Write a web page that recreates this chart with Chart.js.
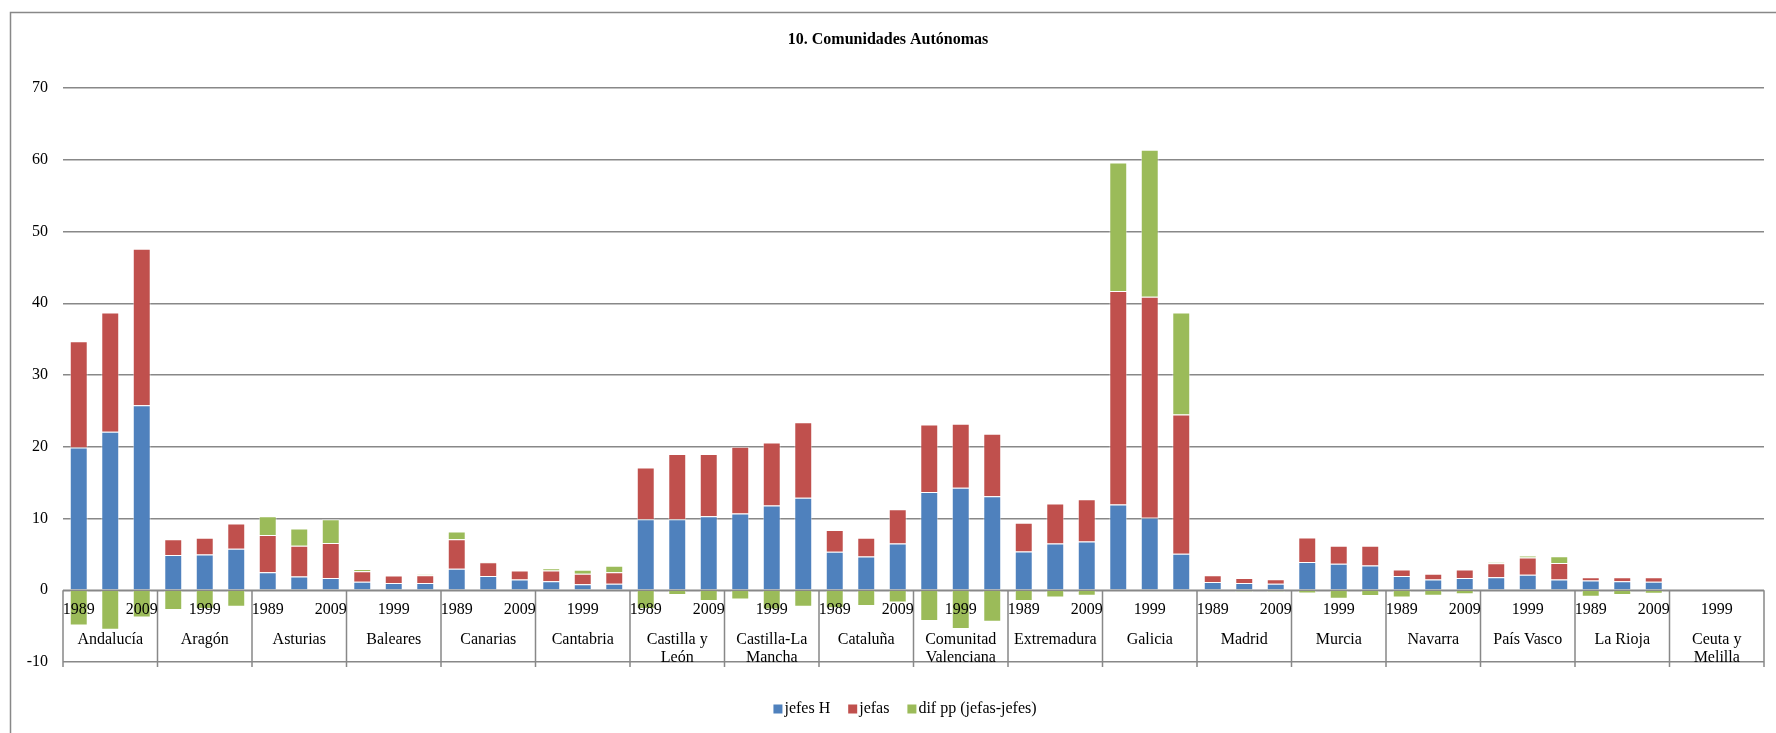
<!DOCTYPE html>
<html><head><meta charset="utf-8">
<script src="https://cdn.jsdelivr.net/npm/chart.js@4.4.0/dist/chart.umd.min.js"></script>
<style>html,body{margin:0;padding:0;background:#fff;overflow:hidden}canvas{display:block}</style>
</head><body>
<canvas id="c" width="1776" height="733"></canvas>
<script>
const chartTitle = '10. Comunidades Autónomas';
const years = ['1989', '1999', '2009'];
const regions = ['Andalucía', 'Aragón', 'Asturias', 'Baleares', 'Canarias', 'Cantabria',
  ['Castilla y', 'León'], ['Castilla-La', 'Mancha'], 'Cataluña', ['Comunitad', 'Valenciana'],
  'Extremadura', 'Galicia', 'Madrid', 'Murcia', 'Navarra', 'País Vasco', 'La Rioja', ['Ceuta y', 'Melilla']];
const seriesNames = ['jefes H', 'jefas', 'dif pp (jefas-jefes)'];
const seriesColors = ['#4F81BD', '#C0504D', '#9BBB59'];

// values per region: 1989, 1999, 2009
const jefesH = [
  19.9, 22.1, 25.8,
  4.9, 5.0, 5.8,
  2.5, 1.9, 1.7,
  1.2, 1.0, 1.0,
  3.0, 2.0, 1.5,
  1.25, 0.85, 0.9,
  9.9, 9.9, 10.3,
  10.7, 11.8, 12.9,
  5.35, 4.7, 6.5,
  13.7, 14.3, 13.1,
  5.4, 6.5, 6.8,
  11.95, 10.1, 5.1,
  1.15, 1.0, 0.9,
  3.95, 3.7, 3.45,
  2.0, 1.5, 1.7,
  1.8, 2.15, 1.5,
  1.35, 1.25, 1.2,
  0.1, 0, 0
];
const jefas = [
  14.8, 16.6, 21.8,
  2.2, 2.3, 3.5,
  5.2, 4.3, 4.9,
  1.45, 1.05, 1.1,
  4.1, 1.9, 1.25,
  1.5, 1.45, 1.6,
  7.2, 9.1, 8.7,
  9.3, 8.8, 10.5,
  3.05, 2.6, 4.8,
  9.4, 8.9, 8.7,
  4.0, 5.6, 5.9,
  29.75, 30.8, 19.4,
  0.95, 0.7, 0.65,
  3.4, 2.5, 2.75,
  0.9, 0.8, 1.2,
  1.95, 2.4, 2.3,
  0.45, 0.55, 0.6,
  0, 0, 0
];
const difPP = [
  -4.9, -5.5, -3.8,
  -2.75, -2.6, -2.3,
  2.6, 2.4, 3.3,
  0.3, 0, 0.1,
  1.1, 0.1, 0,
  0.3, 0.55, 0.9,
  -2.6, -0.65, -1.5,
  -1.3, -2.7, -2.3,
  -2.5, -2.2, -1.7,
  -4.3, -5.4, -4.4,
  -1.5, -1.0, -0.75,
  17.9, 20.5, 14.2,
  0, -0.2, -0.2,
  -0.45, -1.2, -0.8,
  -1.0, -0.75, -0.55,
  0.15, 0.3, 0.95,
  -0.9, -0.65, -0.5,
  0, 0, 0
];
const yMin = -10, yMax = 70, yStep = 10;

const categoryLabels = regions.flatMap(() => years);
const FONT = '"Liberation Serif", "Times New Roman", serif';
const GRID = '#888888';

const decorPlugin = {
  id: 'decor',
  beforeDraw(chart) {
    const ctx = chart.ctx;
    ctx.save();
    ctx.strokeStyle = GRID;
    ctx.lineWidth = 1.5;
    ctx.beginPath();
    ctx.moveTo(10.5, 733); ctx.lineTo(10.5, 12.5); ctx.lineTo(1776, 12.5);
    ctx.stroke();
    ctx.restore();
  },
  afterDatasetsDraw(chart) {
    const ctx = chart.ctx;
    const xs = chart.scales.x, ys = chart.scales.y;
    const area = chart.chartArea;
    const y0 = ys.getPixelForValue(0);
    const yBottom = ys.getPixelForValue(yMin) + 5;
    ctx.save();
    // zero axis line
    ctx.strokeStyle = GRID;
    ctx.lineWidth = 1.5;
    ctx.beginPath();
    ctx.moveTo(area.left, y0); ctx.lineTo(area.right, y0);
    ctx.stroke();
    // group dividers
    const n = categoryLabels.length;
    const bounds = [area.left];
    for (let g = 1; g < regions.length; g++) {
      bounds.push((xs.getPixelForValue(3 * g - 1) + xs.getPixelForValue(3 * g)) / 2);
    }
    bounds.push(area.right);
    ctx.beginPath();
    bounds.forEach(b => { ctx.moveTo(b, y0); ctx.lineTo(b, yBottom); });
    ctx.stroke();
    // year labels (every other category)
    ctx.fillStyle = '#000';
    ctx.font = '16px ' + FONT;
    ctx.textAlign = 'center';
    ctx.textBaseline = 'middle';
    for (let i = 0; i < n; i += 2) {
      ctx.fillText(categoryLabels[i], xs.getPixelForValue(i), y0 + 20);
    }
    // region labels
    regions.forEach((r, g) => {
      const cx = xs.getPixelForValue(3 * g + 1);
      const lines = Array.isArray(r) ? r : [r];
      lines.forEach((t, k) => ctx.fillText(t, cx, y0 + 50 + k * 18));
    });
    // title
    ctx.font = 'bold 16px ' + FONT;
    ctx.fillText(chartTitle, 888, 40);
    // legend
    ctx.font = '16px ' + FONT;
    const box = 9, gapBox = 2, gapItem = 18;
    const widths = seriesNames.map(s => ctx.measureText(s).width);
    const total = widths.reduce((a, w) => a + box + gapBox + w, 0) + gapItem * (seriesNames.length - 1);
    let lx = 905 - total / 2;
    const ly = 709;
    ctx.textAlign = 'left';
    seriesNames.forEach((s, k) => {
      ctx.fillStyle = seriesColors[k];
      ctx.fillRect(lx, ly - 4.5, box, box);
      ctx.fillStyle = '#000';
      ctx.fillText(s, lx + box + gapBox, ly);
      lx += box + gapBox + widths[k] + gapItem;
    });
    ctx.restore();
  }
};

const dataSeries = [jefesH, jefas, difPP];
new Chart(document.getElementById('c'), {
  type: 'bar',
  data: {
    labels: categoryLabels,
    datasets: dataSeries.map((d, k) => ({
      label: seriesNames[k],
      data: d,
      backgroundColor: seriesColors[k],
      borderColor: 'rgba(255,255,255,0.45)',
      borderWidth: 1,
      barPercentage: 0.57,
      categoryPercentage: 1.0
    }))
  },
  options: {
    responsive: false,
    devicePixelRatio: 1,
    animation: false,
    layout: { padding: { left: 10, right: 12, top: 88, bottom: 71 } },
    plugins: { legend: { display: false }, title: { display: false }, tooltip: { enabled: false } },
    scales: {
      x: { display: false, stacked: true, offset: true },
      y: {
        stacked: true,
        min: yMin, max: yMax,
        afterFit(scale) { scale.width = 53; },
        border: { display: false },
        grid: { color: GRID, lineWidth: 1.5, drawTicks: false },
        ticks: { stepSize: yStep, padding: 15, color: '#000', font: { family: FONT, size: 16 } }
      }
    }
  },
  plugins: [decorPlugin]
});
</script>
</body></html>
